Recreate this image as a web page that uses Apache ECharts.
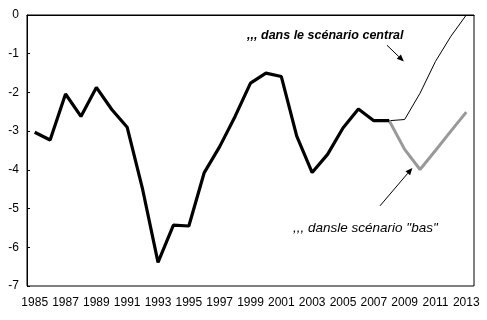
<!DOCTYPE html>
<html>
<head>
<meta charset="utf-8">
<script src="https://cdn.jsdelivr.net/npm/echarts@6/dist/echarts.min.js"></script>
<style>
html,body{margin:0;padding:0;background:#fff;}
#c{width:487px;height:320px;}
</style>
</head>
<body>
<div id="c"></div>
<script>
const years = ['1985','1986','1987','1988','1989','1990','1991','1992','1993','1994','1995','1996','1997','1998','1999','2000','2001','2002','2003','2004','2005','2006','2007','2008','2009','2010','2011','2012','2013'];
const historique = [-3.03,-3.23,-2.04,-2.62,-1.87,-2.44,-2.9,-4.5,-6.39,-5.43,-5.45,-4.07,-3.4,-2.62,-1.76,-1.5,-1.59,-3.13,-4.07,-3.6,-2.92,-2.43,-2.73,-2.73,null,null,null,null,null];
const central = [null,null,null,null,null,null,null,null,null,null,null,null,null,null,null,null,null,null,null,null,null,null,null,-2.73,-2.7,-2.02,-1.2,-0.55,0];
const bas = [null,null,null,null,null,null,null,null,null,null,null,null,null,null,null,null,null,null,null,null,null,null,null,-2.73,-3.47,-3.99,-3.5,-3.0,-2.51];
const yTicks = [0,-1,-2,-3,-4,-5,-6,-7];
const labelCentral = ',,, dans le scénario central';
const labelBas = ',,, dansle scénario "bas"';
// annotation anchors in data units: [category index (fractional), value]
const arrowCentral = [[22.85,-0.78],[23.95,-1.2]];
const arrowBas = [[22.4,-4.93],[24.5,-3.95]];
const textCentralPos = [13.78,-0.53];
const textBasPos = [16.76,-5.5];

const chart = echarts.init(document.getElementById('c'), null, {renderer:'canvas'});
const font = '"Liberation Sans", Arial, sans-serif';
chart.setOption({
  animation:false,
  backgroundColor:'#fff',
  grid:{left:27,right:13,top:15,bottom:34,show:true,borderColor:'#000',borderWidth:1,backgroundColor:'transparent'},
  xAxis:{
    type:'category', data:years, boundaryGap:true,
    axisLine:{lineStyle:{color:'#000',width:1}},
    axisTick:{inside:true,length:3,interval:1,lineStyle:{color:'#000'}},
    axisLabel:{interval:1,color:'#000',fontFamily:font,fontSize:12,margin:11},
    splitLine:{show:false}
  },
  yAxis:{
    type:'value', min:-7, max:0, interval:1,
    axisLine:{show:true,lineStyle:{color:'#000',width:1}},
    axisTick:{show:true,inside:true,length:3,lineStyle:{color:'#000'}},
    axisLabel:{color:'#000',fontFamily:font,fontSize:12,margin:8},
    splitLine:{show:false}
  },
  series:[
    {type:'line',data:historique,symbol:'none',lineStyle:{color:'#000',width:3.2},z:3},
    {type:'line',data:central,symbol:'none',lineStyle:{color:'#000',width:1},z:2},
    {type:'line',data:bas,symbol:'none',lineStyle:{color:'#999999',width:3},z:2}
  ]
});

function toPx(p){
  const i0 = Math.floor(p[0]), f = p[0]-i0;
  const a = chart.convertToPixel({gridIndex:0},[i0,p[1]]);
  const b = chart.convertToPixel({gridIndex:0},[i0+1,p[1]]);
  return [a[0]+(b[0]-a[0])*f, a[1]];
}
function arrow(seg){
  const s = toPx(seg[0]), e = toPx(seg[1]);
  const dx = e[0]-s[0], dy = e[1]-s[1], L = Math.sqrt(dx*dx+dy*dy);
  const ux = dx/L, uy = dy/L, hl = 7, hw = 3;
  const bx = e[0]-ux*hl, by = e[1]-uy*hl;
  return [
    {type:'line',shape:{x1:s[0],y1:s[1],x2:bx,y2:by},style:{stroke:'#000',lineWidth:1},z:10},
    {type:'polygon',shape:{points:[[e[0],e[1]],[bx-uy*hw,by+ux*hw],[bx+uy*hw,by-ux*hw]]},style:{fill:'#000'},z:10}
  ];
}
const tc = toPx(textCentralPos), tb = toPx(textBasPos);
chart.setOption({graphic:[].concat(
  arrow(arrowCentral), arrow(arrowBas),
  [
    {type:'text',x:tc[0],y:tc[1],style:{text:labelCentral,font:'italic bold 12.5px '+font,fill:'#000',verticalAlign:'middle'},z:10},
    {type:'text',x:tb[0],y:tb[1],style:{text:labelBas,font:'italic 13.5px '+font,fill:'#000',verticalAlign:'middle'},z:10}
  ]
)});
</script>
</body>
</html>
